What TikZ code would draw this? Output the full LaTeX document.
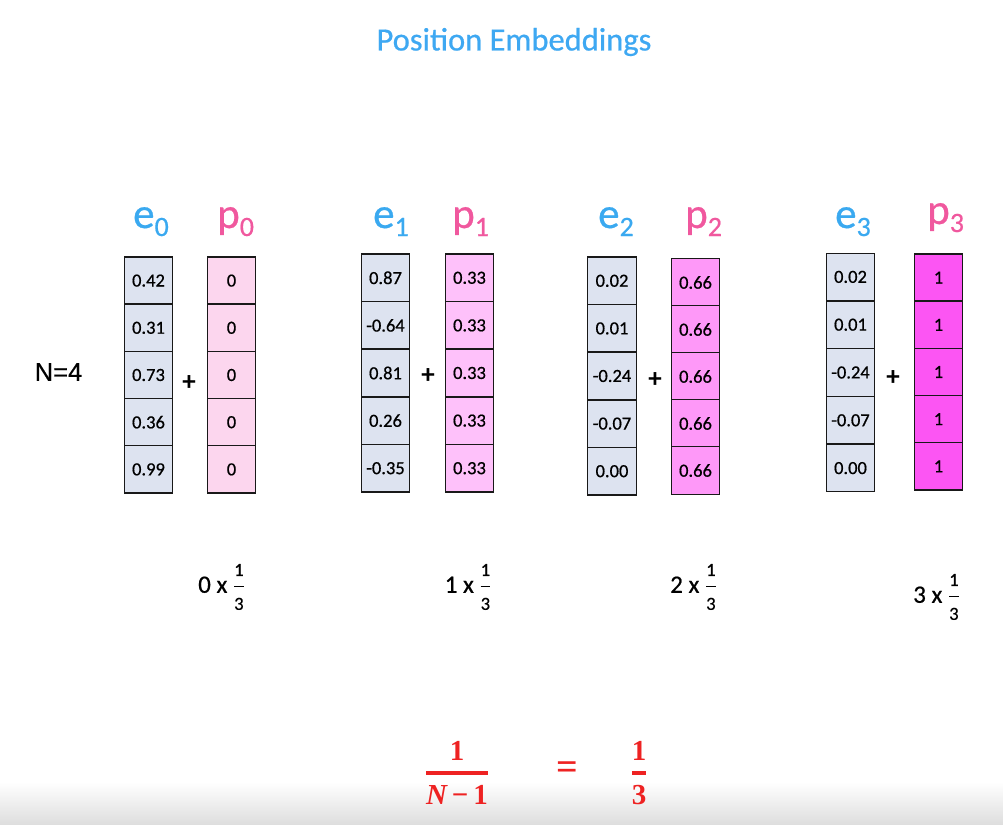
\documentclass[tikz,border=0pt]{standalone}
\usepackage{amsmath}
\usepackage{fontspec}
\setmainfont{Carlito}
\newfontfamily\slidefont{Carlito}[FakeBold=0.6]
\newfontfamily\arialfont{Liberation Sans}[FakeBold=0.4]
\newfontfamily\mathlikefont{Liberation Serif}
\definecolor{titleblue}{HTML}{3EA8F2}
\definecolor{ecol}{HTML}{3AA9F0}
\definecolor{pcol}{HTML}{F0589E}
\definecolor{efill}{HTML}{DDE3F0}
\definecolor{pzero}{HTML}{FCD6EE}
\definecolor{pone}{HTML}{FEC1FA}
\definecolor{ptwo}{HTML}{FE98F8}
\definecolor{pthree}{HTML}{FC55F3}
\definecolor{fracred}{HTML}{EE2222}
\newcommand{\veclab}[2]{{\fontsize{43}{43}\selectfont #1}\raisebox{-8pt}{\fontsize{28}{28}\selectfont #2}}
\newcommand{\multlab}[1]{#1 x $\genfrac{}{}{1pt}{0}{\mbox{\slidefont\fontsize{18.5}{18.5}\selectfont 1}}{\mbox{\slidefont\fontsize{18.5}{18.5}\selectfont 3}}$}
\newcommand{\redtxt}[1]{\mbox{\mathlikefont\bfseries\fontsize{29}{29}\selectfont #1}}
\tikzset{
  cell/.style={draw=black!90, line width=1.3pt, minimum width=48.5pt,
    minimum height=47.4pt, inner sep=0pt, font=\slidefont\fontsize{18.5}{18.5}\selectfont},
  ecell/.style={cell, fill=efill},
  pcell/.style={cell, fill=#1},
  elab/.style={anchor=base west, inner sep=0pt, text=ecol, font=\slidefont},
  plab/.style={anchor=base west, inner sep=0pt, text=pcol, font=\slidefont},
  plus/.style={font=\fontsize{27}{27}\selectfont\bfseries},
  mult/.style={font=\slidefont\fontsize{25}{25}\selectfont},
  redmath/.style={text=fracred, font=\fontsize{28}{28}\selectfont}
}
\begin{document}
\begin{tikzpicture}[x=1pt,y=-1pt]
      \useasboundingbox (0,0) rectangle (1003,824);
      \shade[top color=white, bottom color=black!13] (0,782) rectangle (1003,824);
      \node[text=titleblue, font=\slidefont\fontsize{32.5}{32.5}\selectfont] (title) at (514,42) {Position Embeddings};
      \node[font=\arialfont\fontsize{25.5}{25.5}\selectfont] (n) at (58.5,372) {N=4};
      % vector labels
      \draw
        (133,228) node[elab] (le0){\veclab{e}{0}}
        (217,228) node[plab] (lp0){\veclab{p}{0}}
        (373,228) node[elab] (le1){\veclab{e}{1}}
        (452,228) node[plab] (lp1){\veclab{p}{1}}
        (598,228) node[elab] (le2){\veclab{e}{2}}
        (685,228) node[plab] (lp2){\veclab{p}{2}}
        (835,228) node[elab] (le3){\veclab{e}{3}}
        (927,224) node[plab] (lp3){\veclab{p}{3}};
      % e_0 + p_0
      \draw
        (148.5,280.6) node[ecell] (e0a){0.42}
        (148.5,327.8) node[ecell] (e0b){0.31}
        (148.5,375.0) node[ecell] (e0c){0.73}
        (148.5,422.2) node[ecell] (e0d){0.36}
        (148.5,469.4) node[ecell] (e0e){0.99}
        (231.5,280.6) node[pcell=pzero] (p0a){0}
        (231.5,327.8) node[pcell=pzero] (p0b){0}
        (231.5,375.0) node[pcell=pzero] (p0c){0}
        (231.5,422.2) node[pcell=pzero] (p0d){0}
        (231.5,469.4) node[pcell=pzero] (p0e){0}
        (189,383) node[plus] (plus0){+};
      % e_1 + p_1
      \draw
        (385.5,277.8) node[ecell] (e1a){0.87}
        (385.5,325.4) node[ecell] (e1b){-0.64}
        (385.5,373.0) node[ecell] (e1c){0.81}
        (385.5,420.6) node[ecell] (e1d){0.26}
        (385.5,468.2) node[ecell] (e1e){-0.35}
        (469.5,277.8) node[pcell=pone] (p1a){0.33}
        (469.5,325.4) node[pcell=pone] (p1b){0.33}
        (469.5,373.0) node[pcell=pone] (p1c){0.33}
        (469.5,420.6) node[pcell=pone] (p1d){0.33}
        (469.5,468.2) node[pcell=pone] (p1e){0.33}
        (428,376) node[plus] (plus1){+};
      % e_2 + p_2
      \draw
        (612,280.8) node[ecell] (e2a){0.02}
        (612,328.4) node[ecell] (e2b){0.01}
        (612,376.0) node[ecell] (e2c){-0.24}
        (612,423.6) node[ecell] (e2d){-0.07}
        (612,471.2) node[ecell] (e2e){0.00}
        (695.5,282.5) node[pcell=ptwo] (p2a){0.66}
        (695.5,329.5) node[pcell=ptwo] (p2b){0.66}
        (695.5,376.5) node[pcell=ptwo] (p2c){0.66}
        (695.5,423.5) node[pcell=ptwo] (p2d){0.66}
        (695.5,470.5) node[pcell=ptwo] (p2e){0.66}
        (655,380) node[plus] (plus2){+};
      % e_3 + p_3
      \draw
        (850.5,276.9) node[ecell] (e3a){0.02}
        (850.5,324.7) node[ecell] (e3b){0.01}
        (850.5,372.5) node[ecell] (e3c){-0.24}
        (850.5,420.3) node[ecell] (e3d){-0.07}
        (850.5,468.1) node[ecell] (e3e){0.00}
        (938.5,277.6) node[pcell=pthree] (p3a){1}
        (938.5,324.8) node[pcell=pthree] (p3b){1}
        (938.5,372.0) node[pcell=pthree] (p3c){1}
        (938.5,419.2) node[pcell=pthree] (p3d){1}
        (938.5,466.4) node[pcell=pthree] (p3e){1}
        (893,378) node[plus] (plus3){+};
      % multipliers
      \draw
        (221.5,587) node[mult] (m0){\multlab{0}}
        (468,587) node[mult] (m1){\multlab{1}}
        (693.5,587) node[mult] (m2){\multlab{2}}
        (936.5,597) node[mult] (m3){\multlab{3}};
      % step size
      \draw
        (457,773) node[redmath] (step){$\genfrac{}{}{3.5pt}{0}{\redtxt{1}}{\redtxt{{\itshape N}\,\textminus\,1}}$}
        (567.5,771) node[redmath, font=\mathlikefont\bfseries\fontsize{38}{38}\selectfont] (eq){=}
        (639,773) node[redmath] (third){$\genfrac{}{}{3.5pt}{0}{\redtxt{1}}{\redtxt{3}}$};
    \end{tikzpicture}
\end{document}
